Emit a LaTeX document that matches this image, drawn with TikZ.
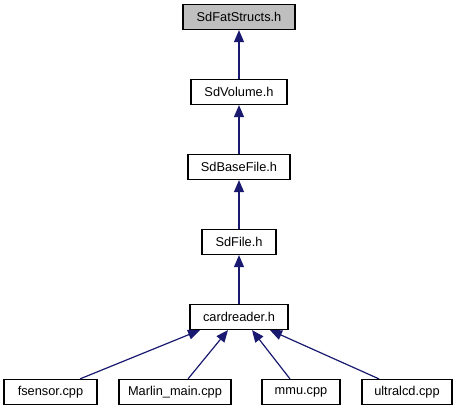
\documentclass[tikz,border=0pt]{standalone}
\usepackage{fontspec}
\setmainfont{Liberation Sans}
\usetikzlibrary{arrows.meta,calc}
\definecolor{edgeblue}{HTML}{191970}
\definecolor{rootfill}{HTML}{BFBFBF}
\begin{document}
\begin{tikzpicture}[x=1pt,y=-1pt,
  file/.style={draw=black,line width=1.2pt,fill=white,minimum height=25pt,
    inner sep=0pt,font=\fontsize{12.8}{15}\selectfont},
  dep/.style={draw=edgeblue,line width=1.2pt,
    -{Triangle[length=12pt,width=10pt]}}]
\useasboundingbox (0,0) rectangle (457,411);

% include hierarchy, top to bottom
\node[file,fill=rootfill,minimum width=112pt] (fat)  at (239,17)  {SdFatStructs.h};
\node[file,minimum width=96pt]  (vol)  at (239,92)  {SdVolume.h};
\node[file,minimum width=102pt] (base) at (239,167) {SdBaseFile.h};
\node[file,minimum width=74pt]  (sdf)  at (239,242) {SdFile.h};
\node[file,minimum width=98pt]  (card) at (239,317) {cardreader.h};

% translation units
\node[file,minimum width=93pt]  (fsen) at (50.5,392) {fsensor.cpp};
\node[file,minimum width=112pt] (mar)  at (175,392)  {Marlin\_main.cpp};
\node[file,minimum width=78pt]  (mmu)  at (301,392)  {mmu.cpp};
\node[file,minimum width=90pt]  (ulcd) at (407,392)  {ultralcd.cpp};

% dependency edges (arrow points at the included file)
\draw[dep] (vol.north)  -- (fat.south);
\draw[dep] (base.north) -- (vol.south);
\draw[dep] (sdf.north)  -- (base.south);
\draw[dep] (card.north) -- (sdf.south);

\draw[dep] ($(fsen.north)+(29.5,0)$) -- ($(card.south)+(-39,0)$);
\draw[dep] ($(mar.north)+(13,0)$)    -- ($(card.south)+(-11,0)$);
\draw[dep] ($(mmu.north)+(-11,0)$)   -- ($(card.south)+(13,0)$);
\draw[dep] ($(ulcd.north)+(-28,0)$)  -- ($(card.south)+(31,0)$);
\end{tikzpicture}
\end{document}
